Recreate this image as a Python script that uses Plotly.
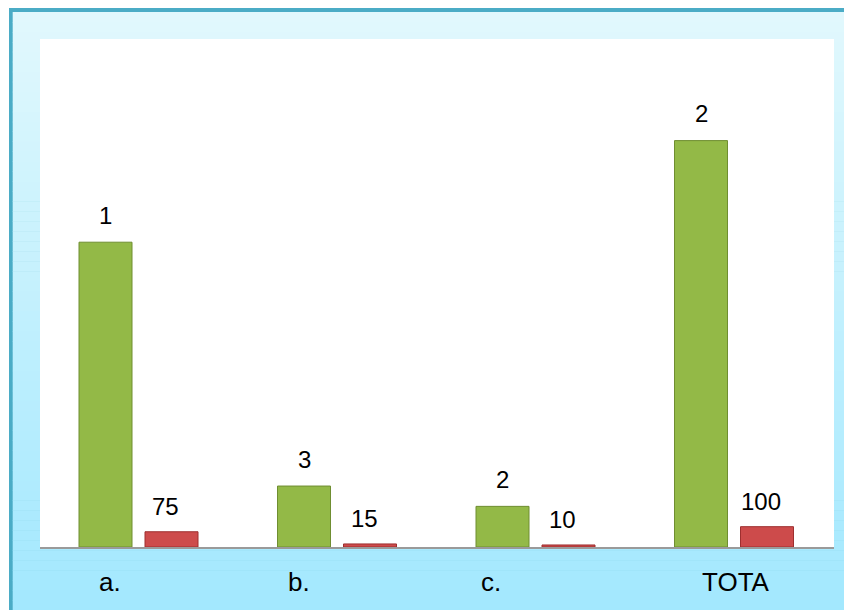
"""Grouped bar chart: counts vs percent per item, framed panel style."""

import plotly.graph_objects as go

CATEGORIES = ["a.", "b.", "c.", "TOTA"]
COUNTS = [1500, 300, 200, 2000]
COUNT_LABELS = ["1", "3", "2", "2"]
PERCENTS = [75, 15, 10, 100]
PERCENT_LABELS = ["75", "15", "10", "100"]

W, H = 852, 610
PAGE_OFF = 8  # page body margin shifts the figure by this much
L, R, T, B = 40 - PAGE_OFF, 18 + PAGE_OFF, 39 - PAGE_OFF, 63 + PAGE_OFF
PW, PH = W - L - R, H - T - B
SLOT = PW / len(CATEGORIES)

BAR_W = 0.267
GREEN_OFF = -0.3035
RED_OFF = 0.029
GREEN = "#93B947"
GREEN_EDGE = "#6F8E31"
RED = "#CD4B4B"
RED_EDGE = "#9E2F2F"
BORDER = "#4BACC6"
TOP_C = (0xE1, 0xF8, 0xFD)
BOT_C = (0xA3, 0xE8, 0xFE)
FONT = "Liberation Sans, Arial, sans-serif"
TICK_SHIFT = [-29, -39, -45, 1]


def px_x(px):
    # px measured on the screenshot
    return (px - PAGE_OFF - L) / PW


def px_y(py):
    return (H - B - (py - PAGE_OFF)) / PH


fig = go.Figure()
fig.add_trace(go.Bar(
    x=CATEGORIES, y=COUNTS, name="n",
    width=BAR_W, offset=GREEN_OFF,
    marker={"color": GREEN, "line": {"color": GREEN_EDGE, "width": 1}},
))
fig.add_trace(go.Bar(
    x=CATEGORIES, y=PERCENTS, name="%",
    width=BAR_W, offset=RED_OFF,
    marker={"color": RED, "line": {"color": RED_EDGE, "width": 1}},
))

# frame: teal border + vertical gradient, white plot area on top
shapes = [dict(type="rect", xref="paper", yref="paper",
               x0=px_x(9), x1=px_x(W + 20), y0=px_y(H + 20), y1=px_y(8),
               fillcolor=BORDER, line={"width": 0}, layer="below")]
n = 60
top, bot = 12, H
for i in range(n):
    f = i / (n - 1)
    c = tuple(round(TOP_C[k] + (BOT_C[k] - TOP_C[k]) * f) for k in range(3))
    y0 = top + (bot - top) * i / n
    y1 = top + (bot - top) * (i + 1) / n + 0.5
    if i == n - 1:
        y1 = H + 20
    shapes.append(dict(type="rect", xref="paper", yref="paper",
                       x0=px_x(12.7), x1=px_x(W + 20), y0=px_y(y1), y1=px_y(y0),
                       fillcolor="rgb(%d,%d,%d)" % c, line={"width": 0}, layer="below"))
shapes.append(dict(type="rect", xref="paper", yref="paper", x0=0, x1=1, y0=0, y1=1,
                   fillcolor="white", line={"width": 0}, layer="below"))

annotations = []
g_shift = (GREEN_OFF + BAR_W / 2) * SLOT
r_shift = (RED_OFF + BAR_W / 2) * SLOT - 6
for cat, v, lab in zip(CATEGORIES, COUNTS, COUNT_LABELS):
    annotations.append(dict(x=cat, y=v, text=lab, showarrow=False, xshift=g_shift,
                            yshift=27, yanchor="middle",
                            font={"size": 24, "color": "black", "family": FONT}))
for cat, v, lab in zip(CATEGORIES, PERCENTS, PERCENT_LABELS):
    annotations.append(dict(x=cat, y=v, text=lab, showarrow=False, xshift=r_shift,
                            yshift=25, yanchor="middle",
                            font={"size": 24, "color": "black", "family": FONT}))
for cat, s in zip(CATEGORIES, TICK_SHIFT):
    annotations.append(dict(x=cat, y=0, yref="paper", text=cat, showarrow=False,
                            xshift=s, yshift=-35, yanchor="middle",
                            font={"size": 26, "color": "black", "family": FONT}))

fig.update_layout(
    width=W, height=H,
    margin={"l": L, "r": R, "t": T, "b": B, "pad": 0},
    paper_bgcolor="white", plot_bgcolor="white",
    barmode="overlay", showlegend=False,
    font={"family": FONT, "size": 23, "color": "black"},
    shapes=shapes, annotations=annotations,
    xaxis={"showticklabels": False, "ticks": "", "showgrid": False,
           "showline": True, "linecolor": "#9A9A9A", "linewidth": 2,
           "zeroline": False, "fixedrange": True},
    yaxis={"range": [0, 2500], "visible": False, "showgrid": False,
           "zeroline": False, "fixedrange": True},
)

fig.write_html("out.html")
